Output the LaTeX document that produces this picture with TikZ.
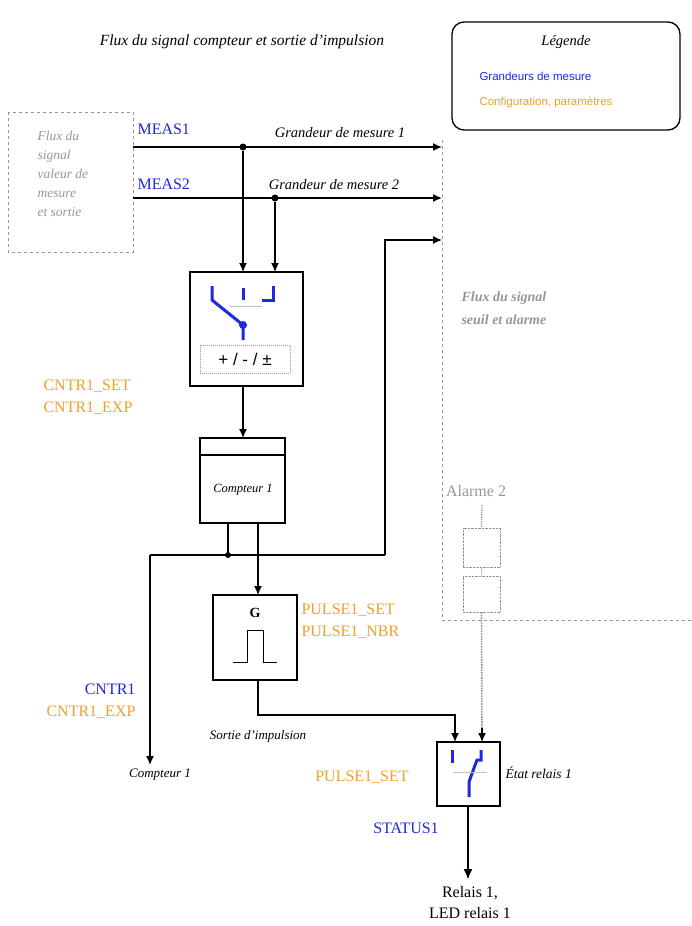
\documentclass[tikz,border=0pt]{standalone}
\usepackage{fontspec}
\setmainfont{Liberation Serif}
\setsansfont{Liberation Sans}
\usetikzlibrary{arrows.meta}
\definecolor{mblue}{RGB}{30,40,220}
\definecolor{morange}{RGB}{240,160,40}
\definecolor{mgray}{RGB}{150,150,150}
\begin{document}
\begin{tikzpicture}[x=1pt,y=-1pt,
  ln/.style={line width=1.3pt},
  arr/.style={ln,-{Latex[length=9pt,width=8pt]}},
  blk/.style={draw,line width=1.3pt},
  dsh/.style={draw=mgray,dashed,line width=0.7pt},
  dot/.style={circle,fill,inner sep=0pt,minimum size=7pt},
  it/.style={font=\itshape\fontsize{14.5}{17}\selectfont},
  bl/.style={text=mblue,font=\fontsize{16}{19}\selectfont},
  or/.style={text=morange,font=\fontsize{16}{22}\selectfont}]
\useasboundingbox (0,0) rectangle (692,926);
\node[it,font=\itshape\fontsize{15.5}{17}\selectfont] (title) at (242,42) {Flux du signal compteur et sortie d’impulsion};
\draw[line width=1.3pt,rounded corners=12pt] (452,22) rectangle (680,130);
\node[it] (leg) at (566,42) {Légende};
\node[anchor=west,text=mblue,font=\sffamily\fontsize{11.5}{13}\selectfont] (l1) at (476,76) {Grandeurs de mesure};
\node[anchor=west,text=morange,font=\sffamily\fontsize{11.5}{13}\selectfont] (l2) at (476,102) {Configuration, paramètres};
\draw[dsh] (8,112) rectangle (133,252);
\node[anchor=north west,align=left,text=mgray,font=\itshape\fontsize{13.5}{19}\selectfont] (lft) at (34,128) {Flux du\\signal\\valeur de\\mesure\\et sortie};
\coordinate (m1s) at (133,147); \coordinate (m1e) at (442,147);
\coordinate (m2s) at (133,198); \coordinate (m2e) at (442,198);
\node[bl,anchor=west] (meas1) at (134,129) {MEAS1};
\node[bl,anchor=west] (meas2) at (134,184) {MEAS2};
\node[it] (g1) at (340,133) {Grandeur de mesure 1};
\node[it] (g2) at (334,185) {Grandeur de mesure 2};
\draw[arr] (m1s) -- (m1e);
\draw[arr] (m2s) -- (m2e);
\draw[dsh] (442,140) -- (442,620) -- (692,620);
\node[anchor=west,align=left,text=mgray,font=\bfseries\itshape\fontsize{14}{23}\selectfont] (fs) at (458,308) {Flux du signal\\seuil et alarme};
% box1
\node[blk,minimum width=113pt,minimum height=114pt] (b1) at (246.5,329) {};
\node[dot] (d1) at (243,147) {};
\node[dot] (d2) at (275,198) {};
\draw[arr] (d1) -- (243,272);
\draw[arr] (d2) -- (275,272);
\begin{scope}[mblue,line width=3pt]
\draw (212,286) -- (212,300) -- (243,325) -- (243,340);
\draw (243,288) -- (243,300);
\draw (262,300) -- (273,300) -- (273,286);
\end{scope}
\draw[mgray!60,line width=0.5pt] (230,306)--(262,306);
\node[dot,mblue,minimum size=8pt] (sw) at (243,325) {};
\node[draw=mgray,densely dotted,line width=1pt,minimum width=90pt,minimum height=28pt,font=\sffamily\fontsize{17}{19}\selectfont] (pm) at (245,359) {+ / - / ±};
\node[or,anchor=west,align=left] (cs) at (40,397) {CNTR1\_SET\\CNTR1\_EXP};
% counter
\node[blk,minimum width=85pt,minimum height=85pt] (cnt) at (242.5,480.5) {};
\draw[line width=1.3pt] (200,455) -- (285,455);
\node[font=\itshape\fontsize{12.5}{14}\selectfont] (ct) at (243,490) {Compteur 1};
\draw[arr] (b1.south -| 243,0) -- (243,438);
\coordinate (j1) at (228,555);
\node[dot,minimum size=6pt] (dj) at (j1) {};
\coordinate (lc) at (150,555);
\coordinate (rc) at (385,555);
\draw[ln] (228,523) -- (dj);
\draw[arr] (lc) -- (150,765);
\draw[ln] (lc) -- (rc);
\draw[arr] (rc) -- (385,240) -- (442,240);
% G box
\node[blk,minimum width=84pt,minimum height=85pt] (gb) at (255,637.5) {};
\draw[arr] (258,523) -- (258,595);
\node[font=\bfseries\fontsize{14}{16}\selectfont] (G) at (255,613) {G};
\draw[line width=1pt] (233,662) -- (247,662) -- (247,630) -- (263,630) -- (263,662) -- (277,662);
\node[or,anchor=west,align=left] (ps) at (298,621) {PULSE1\_SET\\PULSE1\_NBR};
\node[anchor=east,align=right,font=\fontsize{16}{22}\selectfont] (cn) at (139,701) {\textcolor{mblue}{CNTR1}\\\textcolor{morange}{CNTR1\_EXP}};
\node[it,font=\itshape\fontsize{13}{15}\selectfont] (c1) at (160,775) {Compteur 1};
\node[it,font=\itshape\fontsize{13}{15}\selectfont] (so) at (258,736) {Sortie d’impulsion};
% relay
\node[blk,minimum width=63pt,minimum height=64pt] (rl) at (468.5,774) {};
\draw[arr] (258,680) -- (258,715) -- (455,715) -- (455,742);
\node[text=mgray,font=\fontsize{16}{18}\selectfont] (al) at (476,491) {Alarme 2};
\node[draw=mgray,densely dotted,minimum width=37pt,minimum height=39pt] (a1) at (481.5,547.5) {};
\node[draw=mgray,densely dotted,minimum width=37pt,minimum height=36pt] (a2) at (481.5,594) {};
\draw[mgray,densely dotted,line width=1.3pt] (482,505) -- (a1.north);
\draw[mgray,densely dotted,line width=1.3pt] (a1.south) -- (a2.north);
\draw[mgray,densely dotted,line width=1.6pt] (a2.south) -- (482,730);
\draw[arr] (482,728) -- (482,742);
\begin{scope}[mblue,line width=3pt]
\draw (452,750) -- (452,763);
\draw (469,797) -- (469,782) -- (474,768) -- (477,760) -- (481,760) -- (481,750);
\end{scope}
\draw[mgray!60,line width=0.5pt] (453,772)--(487,772);
\node[it,anchor=west,font=\itshape\fontsize{13.5}{15}\selectfont] (er) at (502,773) {État relais 1};
\node[or] (p1) at (362,777) {PULSE1\_SET};
\node[bl] (st) at (406,828) {STATUS1};
\draw[line width=2.3pt,-{Latex[length=11pt,width=9pt]}] (468,806) -- (468,880);
\node[align=center,font=\fontsize{16}{21}\selectfont] (rel) at (470,903) {Relais 1,\\LED relais 1};
\end{tikzpicture}
\end{document}
